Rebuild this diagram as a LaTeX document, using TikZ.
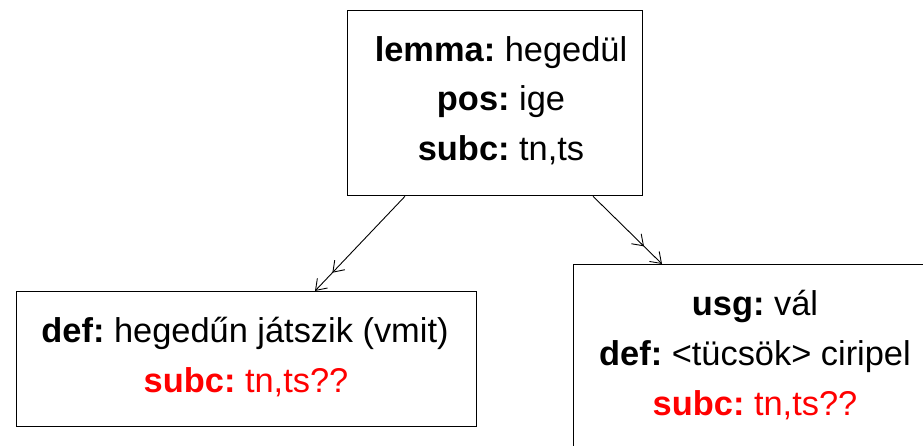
\documentclass[tikz,border=0pt]{standalone}
\usepackage{fontspec}
\setmainfont{Liberation Sans}
\usetikzlibrary{arrows.meta}
\definecolor{subcred}{RGB}{255,0,0}
\frenchspacing
\begin{document}
\begin{tikzpicture}[x=1pt,y=-1pt,
  entry/.style={draw=black,line width=1.3pt,rectangle,inner sep=0pt,anchor=north west},
  line/.style={anchor=base,inner sep=0pt,font=\fontsize{34.4}{49}\selectfont},
  warn/.style={line,text=subcred},
  link/.style={draw=black,line width=0.9pt,
    -{Straight Barb[length=10pt,width=14pt,sep=14pt]Straight Barb[length=10pt,width=14pt]}}]
\useasboundingbox (0,0) rectangle (923,446);
\clip (0,0) rectangle (923,446);
\fill[white] (0,0) rectangle (923,446);

% lexical entry
\node[entry,minimum width=295pt,minimum height=185pt] (top) at (347,10) {};
\node[line] (t1) at (501,62)  {\textbf{lemma:} hegedül};
\node[line] (t2) at (501,111) {\textbf{pos:} ige};
\node[line] (t3) at (501,161) {\textbf{subc:} tn,ts};

% first sense
\node[entry,minimum width=460pt,minimum height=135pt] (left) at (16,291) {};
\node[line] (l1) at (245,342) {\textbf{def:} hegedűn játszik (vmit)};
\node[warn] (l2) at (246,392) {\textbf{subc:} tn,ts??};

% second sense
\node[entry,minimum width=364pt,minimum height=195pt] (right) at (573,264) {};
\node[line] (r1) at (755,315) {\textbf{usg:} vál};
\node[line] (r2) at (755,365) {\textbf{def:} <tücsök> ciripel};
\node[warn] (r3) at (755,415) {\textbf{subc:} tn,ts??};

% links from the lemma to its senses
\draw[link] ([xshift=58pt]top.south west) -- ([xshift=299pt]left.north west);
\draw[link] ([xshift=246pt]top.south west) -- ([xshift=89pt]right.north west);
\end{tikzpicture}
\end{document}
